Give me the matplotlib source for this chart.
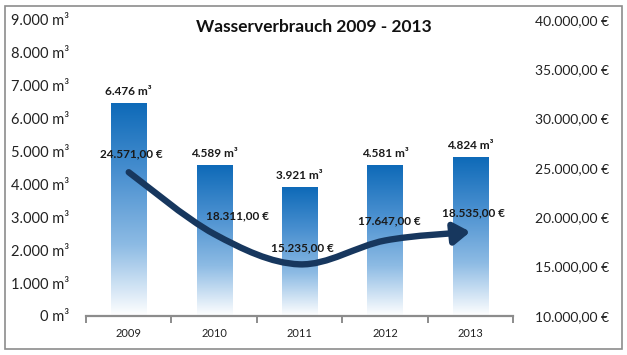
import numpy as np
import matplotlib
matplotlib.use("Agg")
import matplotlib.pyplot as plt
from matplotlib.path import Path
from matplotlib.patches import FancyArrowPatch, Rectangle
from matplotlib.colors import LinearSegmentedColormap

plt.rcParams['font.family'] = ['Lato', 'DejaVu Sans']

# data
years = ['2009', '2010', '2011', '2012', '2013']
verbrauch = [6476, 4589, 3921, 4581, 4824]          # m³
kosten = [24571.0, 18311.0, 15235.0, 17647.0, 18535.0]  # €
left_ticks = [0, 1000, 2000, 3000, 4000, 5000, 6000, 7000, 8000, 9000]
right_ticks = [10000, 15000, 20000, 25000, 30000, 35000, 40000]


def de_int(v):
    return "{:,}".format(int(v)).replace(",", ".")


def de_eur(v):
    s = "{:,.2f}".format(v)
    return s.replace(",", "X").replace(".", ",").replace("X", ".") + " €"


fig = plt.figure(figsize=(6.27, 3.55), dpi=100)
ax = fig.add_axes([0.1372, 0.1099, 0.6810, 0.8338])
ax2 = ax.twinx()

# outer frame
fig.patches.append(Rectangle((5 / 627, 6 / 355), 617 / 627, 343 / 355, transform=fig.transFigure,
                             fill=False, edgecolor='#8c8c8c', linewidth=1.2))

x = np.arange(len(years))
bw = 0.41
cmap = LinearSegmentedColormap.from_list('wb', ['#ffffff', '#8dbbe4', '#4a90d0', '#0e6ab8'])
grad = np.linspace(0, 1, 256).reshape(-1, 1)
bars = ax.bar(x, verbrauch, width=bw, color='none', edgecolor='none')
for b, v in zip(bars, verbrauch):
    im = ax.imshow(grad, cmap=cmap, origin='lower', aspect='auto',
                   extent=(b.get_x(), b.get_x() + bw, 0, v), zorder=1)
    im.set_clip_path(b)
    ax.text(b.get_x() + bw / 2, v + 180, de_int(v) + " m³", ha='center', va='bottom',
            fontsize=8.5, fontweight='bold', color='#1a1a1a')

ax.set_xlim(-0.5, len(years) - 0.5)
ax.set_ylim(0, 9000)
ax2.set_ylim(10000, 40000)

# smoothed cost line (catmull-rom to bezier)
pts = np.column_stack([x, kosten]).astype(float)
verts = [pts[0]]
codes = [Path.MOVETO]
t = 0.5 / 3
for i in range(len(pts) - 1):
    p0 = pts[i - 1] if i > 0 else pts[i]
    p1 = pts[i]
    p2 = pts[i + 1]
    p3 = pts[i + 2] if i + 2 < len(pts) else pts[i + 1]
    c1 = p1 + (p2 - p0) * t
    c2 = p2 - (p3 - p1) * t
    verts += [c1, c2, p2]
    codes += [Path.CURVE4] * 3
arrow = FancyArrowPatch(path=Path(verts, codes), arrowstyle='-|>,head_length=0.6,head_width=0.4',
                        mutation_scale=16, color='#17375e', linewidth=4.6, zorder=3)
ax2.add_patch(arrow)

offsets = [(2, 9), (17, 9), (2, 8), (3, 10), (2, 10)]
for xi, k, off in zip(x, kosten, offsets):
    ax2.annotate(de_eur(k), (xi, k), xytext=off, textcoords='offset points', ha='center', va='bottom',
                 fontsize=8.5, fontweight='bold', color='#1a1a1a', zorder=4)

fig.text(0.5, 0.925, 'Wasserverbrauch 2009 - 2013', ha='center', va='center',
         fontsize=12.5, fontweight='bold', color='#111111')

# axes styling
for a in (ax, ax2):
    for s in ('top', 'left', 'right'):
        a.spines[s].set_visible(False)
ax2.spines['bottom'].set_visible(False)
ax.spines['bottom'].set_color('#8c8c8c')
ax.spines['bottom'].set_linewidth(1.6)

ax.set_yticks(left_ticks)
ax.set_yticklabels([de_int(v) + " m³" for v in left_ticks], fontsize=10.5, color='#222222')
ax.tick_params(axis='y', length=0, pad=12)
ax2.set_yticks(right_ticks)
ax2.set_yticklabels([de_eur(v) for v in right_ticks], fontsize=10, color='#222222')
ax2.tick_params(axis='y', length=0, pad=16)

ax.set_xticks(x)
ax.set_xticklabels(years, fontsize=8, color='#222222')
ax.tick_params(axis='x', length=0, pad=9)
ax.set_xticks(np.arange(-0.5, len(years)), minor=True)
ax.tick_params(axis='x', which='minor', length=5, width=1.4, color='#8c8c8c', direction='out')

fig.savefig('out.png', dpi=100)
